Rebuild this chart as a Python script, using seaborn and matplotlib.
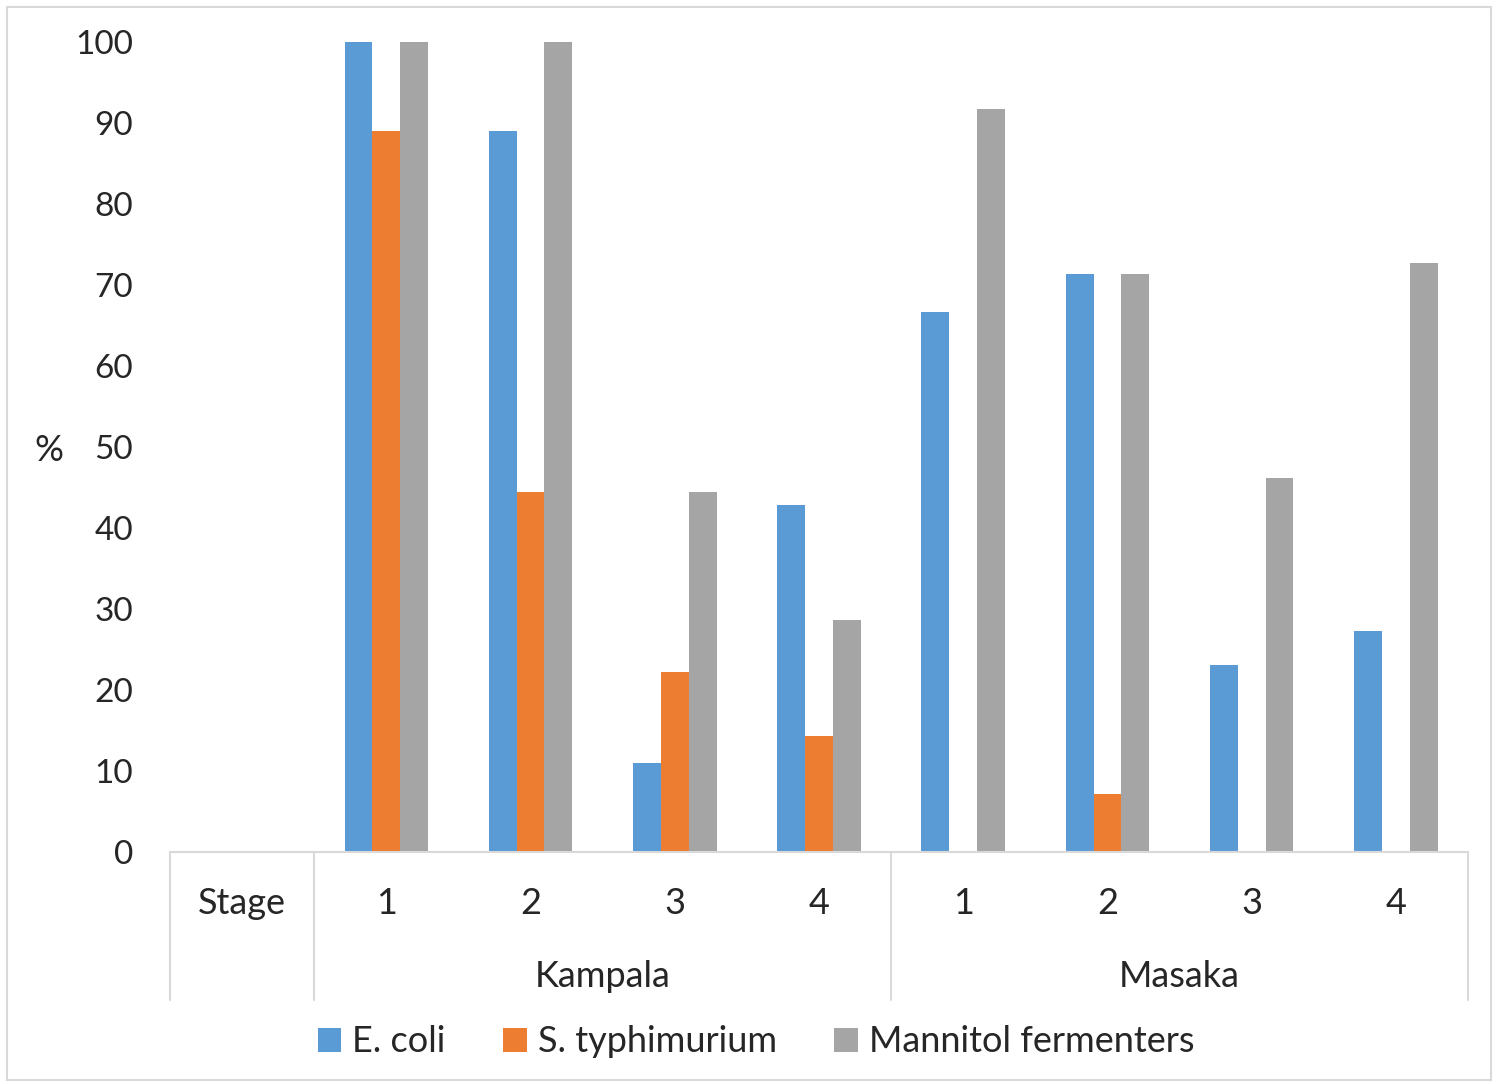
import numpy as np
import pandas as pd
import matplotlib
matplotlib.use("Agg")
import matplotlib.pyplot as plt
import seaborn as sns

# data
sites = ["Kampala"] * 4 + ["Masaka"] * 4
stages = ["1", "2", "3", "4", "1", "2", "3", "4"]
ecoli = [100, 89, 11, 42.8, 66.7, 71.4, 23.1, 27.3]
styphi = [89, 44.4, 22.2, 14.3, 0, 7.1, 0, 0]
mannitol = [100, 100, 44.4, 28.6, 91.7, 71.4, 46.2, 72.7]
series = ["E. coli", "S. typhimurium", "Mannitol fermenters"]
colors = ["#5B9BD5", "#ED7D31", "#A5A5A5"]

keys = [s[0] + st for s, st in zip(sites, stages)]
df = pd.DataFrame({"key": keys * 3,
                   "value": ecoli + styphi + mannitol,
                   "series": np.repeat(series, len(keys))})

sns.set_theme(style="white")
plt.rcParams["font.family"] = ["Lato", "DejaVu Sans"]
fs = 26

fig = plt.figure(figsize=(14.99, 10.84), dpi=100)
ax = fig.add_axes([170 / 1499, (1084 - 852) / 1084, 1298 / 1499, 810 / 1084])

order = ["Stage"] + keys
sns.barplot(data=df, x="key", y="value", hue="series", order=order,
            hue_order=series, palette=colors, width=0.58, gap=0,
            saturation=1, linewidth=0, ax=ax, legend=True)

ax.set_ylim(0, 100)
ax.set_xlim(-0.5, len(order) - 0.5)
ax.set_yticks(range(0, 101, 10))
ax.tick_params(axis="y", labelsize=24, pad=26.5, length=0)
ax.set_xticks([])
ax.set_xlabel("")
ax.set_ylabel("%", fontsize=fs, rotation=0)
ax.yaxis.set_label_coords(-0.093, 0.475)
for sp in ["top", "right", "left"]:
    ax.spines[sp].set_visible(False)
ax.spines["bottom"].set_color("#D9D9D9")
ax.spines["bottom"].set_linewidth(1.5)

# category table below the axis
trans = ax.get_xaxis_transform()
line_kw = dict(color="#D9D9D9", lw=1.5, clip_on=False, transform=trans)
for xv in [-0.5, 0.5, 4.5, 8.5]:
    ax.plot([xv, xv], [0, -0.183], **line_kw)
ax.text(0, -0.064, "Stage", transform=trans, ha="center", va="center", fontsize=fs)
for i, st in enumerate(stages):
    ax.text(i + 1, -0.064, st, transform=trans, ha="center", va="center", fontsize=fs)
ax.text(2.5, -0.154, "Kampala", transform=trans, ha="center", va="center", fontsize=fs)
ax.text(6.5, -0.154, "Masaka", transform=trans, ha="center", va="center", fontsize=fs)

handles, labels = ax.get_legend_handles_labels()
ax.legend(handles, labels, loc="center", bbox_to_anchor=(756 / 1499, 42 / 1084),
          bbox_transform=fig.transFigure, ncol=3, frameon=False, fontsize=fs,
          handlelength=0.65, handleheight=0.65, handletextpad=0.3, columnspacing=1.6)

# light frame around the chart
fig.patches.append(plt.Rectangle((7 / 1499, 4 / 1084), 1484 / 1499, 1073 / 1084,
                                 transform=fig.transFigure, fill=False,
                                 edgecolor="#D9D9D9", lw=1.5))

fig.savefig("out.png", dpi=100)
